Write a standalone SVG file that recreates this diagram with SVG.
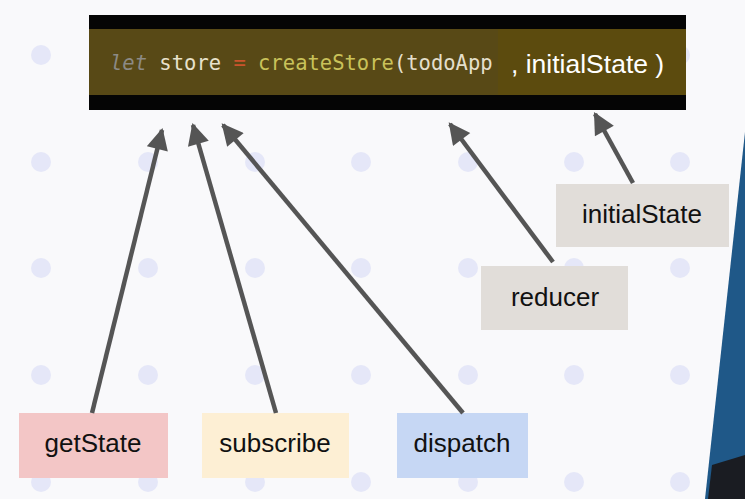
<svg xmlns="http://www.w3.org/2000/svg" width="745" height="499" viewBox="0 0 745 499">
<defs>
<style>
.dot{fill:#e5e7f8}
.node text{font-family:"Liberation Sans",Arial,sans-serif;font-size:26px;fill:#111;text-anchor:middle}
.conn line{stroke:#555;stroke-width:4.5}
.code{font-family:"DejaVu Sans Mono",monospace;font-size:20.5px}
</style>
<marker id="ah" viewBox="0 0 10 10" refX="9" refY="5" markerWidth="5.2" markerHeight="4.8" markerUnits="strokeWidth" orient="auto">
<path d="M0,0 L10,5 L0,10 Z" fill="#555"/>
</marker>
</defs>
<rect width="745" height="499" fill="#f9f9fb"/>
<g id="dots">
<circle class="dot" cx="41" cy="55" r="10"/><circle class="dot" cx="680" cy="55" r="10"/>
<circle class="dot" cx="41" cy="162" r="10"/><circle class="dot" cx="148" cy="162" r="10"/><circle class="dot" cx="255" cy="162" r="10"/><circle class="dot" cx="361" cy="162" r="10"/><circle class="dot" cx="468" cy="162" r="10"/><circle class="dot" cx="574" cy="162" r="10"/><circle class="dot" cx="680" cy="162" r="10"/>
<circle class="dot" cx="41" cy="268" r="10"/><circle class="dot" cx="148" cy="268" r="10"/><circle class="dot" cx="255" cy="268" r="10"/><circle class="dot" cx="361" cy="268" r="10"/><circle class="dot" cx="468" cy="268" r="10"/><circle class="dot" cx="574" cy="268" r="10"/><circle class="dot" cx="680" cy="268" r="10"/>
<circle class="dot" cx="41" cy="375" r="10"/><circle class="dot" cx="148" cy="375" r="10"/><circle class="dot" cx="255" cy="375" r="10"/><circle class="dot" cx="361" cy="375" r="10"/><circle class="dot" cx="468" cy="375" r="10"/><circle class="dot" cx="574" cy="375" r="10"/><circle class="dot" cx="680" cy="375" r="10"/>
<circle class="dot" cx="41" cy="482" r="10"/><circle class="dot" cx="148" cy="482" r="10"/><circle class="dot" cx="255" cy="482" r="10"/><circle class="dot" cx="361" cy="482" r="10"/><circle class="dot" cx="468" cy="482" r="10"/><circle class="dot" cx="574" cy="482" r="10"/><circle class="dot" cx="680" cy="482" r="10"/>
</g>
<g id="backdrop">
<polygon points="745,132 745,499 705,499" fill="#1f5888"/>
<polygon points="712,465 745,455 745,499 708,499" fill="#1a1c22"/>
</g>
<g id="code">
<rect x="89" y="15" width="597" height="95" fill="#050505"/>
<rect x="89" y="29" width="409" height="66" fill="#584916"/>
<rect x="498" y="29" width="188" height="66" fill="#5c4b0e"/>
<text class="code" x="110" y="70"><tspan fill="#8c8a84" font-style="italic">let</tspan><tspan fill="#e8e2cc"> store </tspan><tspan fill="#c9542c">=</tspan><tspan fill="#c9c25a"> createStore</tspan><tspan fill="#e4dfcc">(todoApp</tspan></text>
<text x="511" y="73" font-family="'Liberation Sans',Arial,sans-serif" font-size="26.5" fill="#fff">, initialState )</text>
</g>
<g id="initialState" class="node"><rect x="556" y="184" width="173" height="63" fill="#e1ddd9"/><text x="642" y="223">initialState</text></g>
<g id="reducer" class="node"><rect x="481" y="266" width="147" height="64" fill="#e1ddd9"/><text x="555" y="306">reducer</text></g>
<g id="getState" class="node"><rect x="19" y="413" width="149" height="65" fill="#f3c6c6"/><text x="93" y="452">getState</text></g>
<g id="subscribe" class="node"><rect x="202" y="413" width="147" height="65" fill="#fdefd4"/><text x="275" y="452">subscribe</text></g>
<g id="dispatch" class="node"><rect x="397" y="413" width="131" height="65" fill="#c6d7f4"/><text x="462" y="452">dispatch</text></g>
<g id="connectors" class="conn">
<line x1="92" y1="413" x2="162" y2="130" marker-end="url(#ah)"/>
<line x1="276" y1="413" x2="193" y2="125" marker-end="url(#ah)"/>
<line x1="463" y1="413" x2="223" y2="125" marker-end="url(#ah)"/>
<line x1="553" y1="262" x2="450" y2="124" marker-end="url(#ah)"/>
<line x1="633" y1="183" x2="595" y2="114" marker-end="url(#ah)"/>
</g>
</svg>
